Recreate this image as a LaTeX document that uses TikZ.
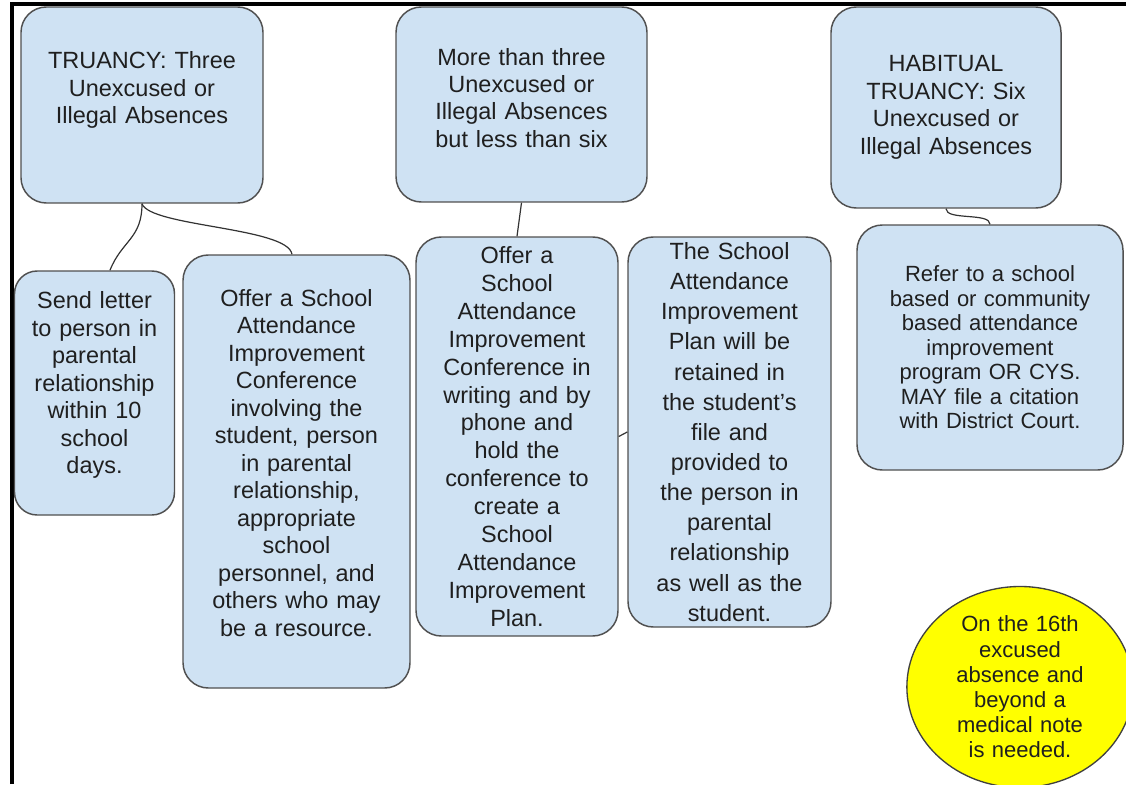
\documentclass[tikz,border=0pt]{standalone}
\usepackage{fontspec}
\setmainfont{Liberation Sans}
\usetikzlibrary{shapes.geometric}

\definecolor{boxblue}{HTML}{CFE2F3}
\definecolor{boxline}{HTML}{505050}
\definecolor{notefill}{HTML}{FFFF00}

\tikzset{
  stepbox/.style={draw=boxline, line width=1.1pt, fill=boxblue, rounded corners=19pt,
    align=center, text=black!88, inner sep=4pt,
    font=\fontsize{17.6}{20.6}\selectfont},
  lift text/.style={execute at end node={\par\nointerlineskip\vbox to #1{}}},
  link/.style={draw=black!80, line width=0.9pt},
}

\begin{document}
\begin{tikzpicture}[x=0.75pt, y=-0.75pt]
  \useasboundingbox (0,0) rectangle (1126,784);

  % Frame (left and top edge only)
  \draw[line width=3pt] (12,784) -- (12,4) -- (1126,4);

  % Top row
  \node[stepbox, minimum width=181.5pt, minimum height=147pt, text width=170pt,
    lift text=22pt] (truancy) at (142,105)
    {TRUANCY: Three\\Unexcused or\\Illegal Absences};
  \node[stepbox, minimum width=188.25pt, minimum height=146.25pt, text width=176pt,
    lift text=10pt] (between) at (521.5,104.5)
    {More than three\\Unexcused or\\Illegal Absences\\but less than six};
  \node[stepbox, minimum width=172.5pt, minimum height=150.75pt, text width=162pt]
    (habitual) at (946,107.5)
    {HABITUAL\\TRUANCY: Six\\Unexcused or\\Illegal Absences};

  % Second row
  \node[stepbox, rounded corners=17pt, minimum width=119.25pt, minimum height=183pt,
    text width=112pt, lift text=12pt] (letter) at (94.5,393)
    {Send letter\\to person in\\parental\\relationship\\within 10\\school\\days.};
  \node[stepbox, minimum width=170.25pt, minimum height=324.75pt, text width=160pt,
    lift text=13pt] (confOne) at (296.5,471.5)
    {Offer a School\\Attendance\\Improvement\\Conference\\involving the\\student, person\\in parental\\relationship,\\appropriate\\school\\personnel, and\\others who may\\be a resource.};
  \node[stepbox, minimum width=151.5pt, minimum height=299.25pt, text width=142pt,
    inner ysep=2pt, font=\fontsize{17.6}{20.9}\selectfont] (confTwo) at (517,436.5)
    {Offer a\\School\\Attendance\\Improvement\\Conference in\\writing and by\\phone and\\hold the\\conference to\\create a\\School\\Attendance\\Improvement\\Plan.};
  \node[stepbox, minimum width=152.25pt, minimum height=292.5pt, text width=142pt,
    inner ysep=2pt, font=\fontsize{17.6}{22.6}\selectfont] (plan) at (729.5,432)
    {The School\\Attendance\\Improvement\\Plan will be\\retained in\\the student's\\file and\\provided to\\the person in\\parental\\relationship\\as well as the\\student.};
  \node[stepbox, minimum width=199.5pt, minimum height=183.75pt, text width=190pt,
    font=\fontsize{16.5}{18.4}\selectfont] (refer) at (990,347.5)
    {Refer to a school\\based or community\\based attendance\\improvement\\program OR CYS.\\MAY file a citation\\with District Court.};

  % Note on excused absences
  \node[ellipse, draw=black!75, line width=1pt, fill=notefill, text=black!88,
    minimum width=162pt, minimum height=144pt, text width=120pt, align=center,
    inner sep=0pt, font=\fontsize{16.5}{18.9}\selectfont] (note) at (1020,687)
    {On the 16th\\excused\\absence and\\beyond a\\medical note\\is needed.};

  % Connectors
  \draw[link] (truancy.south) .. controls +(0,35) and +(12,-30) .. ([xshift=11.6pt]letter.north);
  \draw[link] (truancy.south) .. controls +(8,23) and +(-4,-27) .. ([xshift=-3.4pt]confOne.north);
  \draw[link] (between.south) -- (confTwo.north);
  \draw[link] (confTwo.east) -- (plan.west);
  \draw[link] (habitual.south) .. controls +(0,12) and +(0,-12) .. (refer.north);

\end{tikzpicture}
\end{document}
